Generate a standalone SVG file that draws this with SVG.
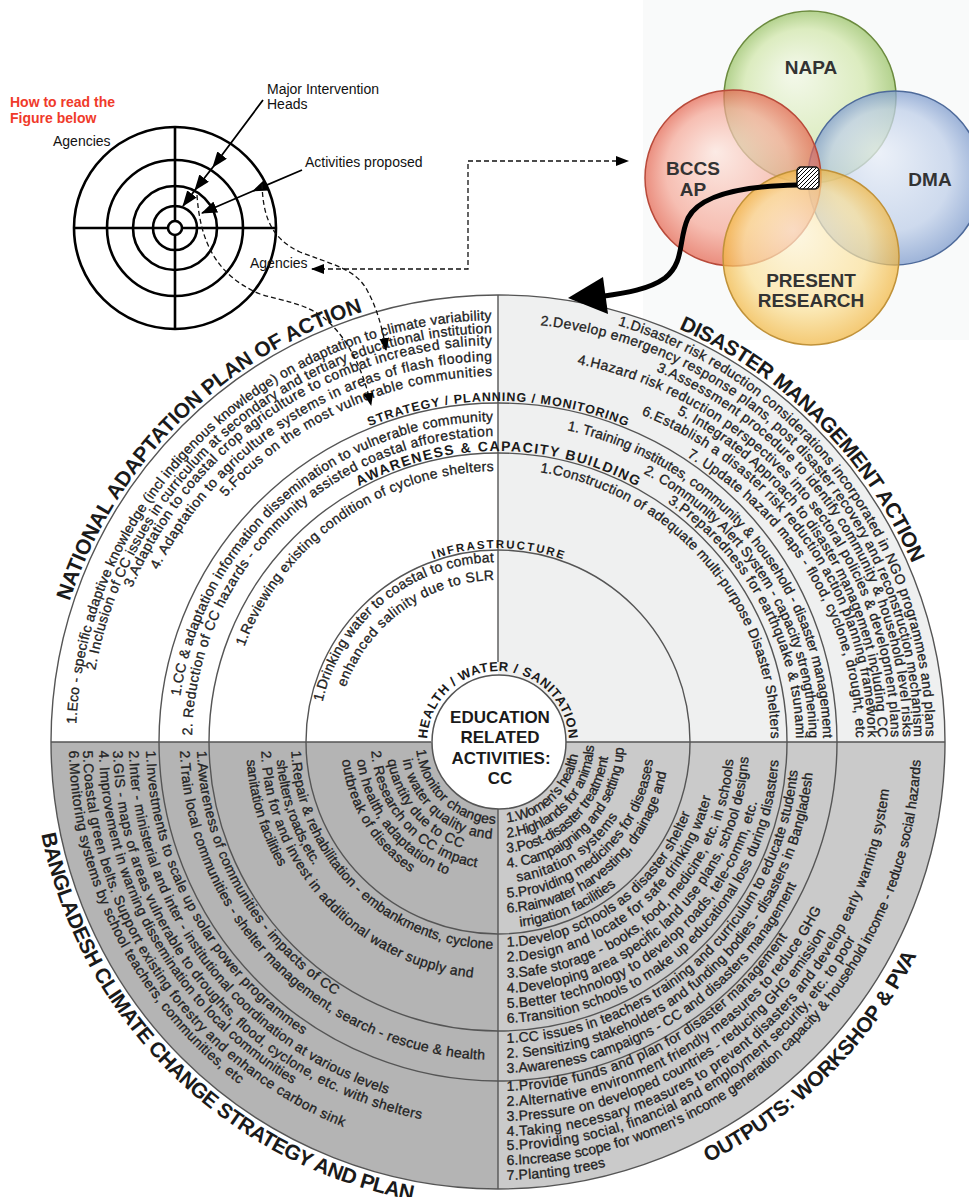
<svg xmlns="http://www.w3.org/2000/svg" width="969" height="1197" viewBox="0 0 969 1197">
<style>
.t{font-family:"Liberation Sans",Arial,sans-serif;font-size:14px;fill:#222;stroke:#222;stroke-width:0.3}
.h{font-family:"Liberation Sans",Arial,sans-serif;font-weight:bold;fill:#1a1a1a}
.lbl{font-family:"Liberation Sans",Arial,sans-serif;font-size:14px;fill:#111}
.vl{font-family:"Liberation Sans",Arial,sans-serif;font-size:19px;font-weight:bold;fill:#333;text-anchor:middle}
.ring{fill:none;stroke:#555;stroke-width:1.4}
.lg{fill:none;stroke:#000;stroke-width:2.6}
.dash{fill:none;stroke:#111;stroke-width:1.3;stroke-dasharray:5 3}
</style>
<defs>
<marker id="ah" markerUnits="userSpaceOnUse" markerWidth="16" markerHeight="12" refX="15" refY="6" orient="auto"><path d="M0,0 L16,6 L0,12 Z" fill="#000"/></marker>
<marker id="ad" markerUnits="userSpaceOnUse" markerWidth="13" markerHeight="10" refX="12" refY="5" orient="auto-start-reverse"><path d="M0,0 L13,5 L0,10 Z" fill="#000"/></marker>
<pattern id="hatch" patternUnits="userSpaceOnUse" width="4" height="4"><rect width="4" height="4" fill="#fff"/><path d="M-1,1 l2,-2 M0,4 l4,-4 M3,5 l2,-2" stroke="#000" stroke-width="1"/></pattern>
<radialGradient id="gN" fx="0.4" fy="0.35"><stop offset="0" stop-color="#f2f8e6"/><stop offset="0.7" stop-color="#d2e7ac"/><stop offset="1" stop-color="#9cc46a"/></radialGradient>
<radialGradient id="gB" fx="0.4" fy="0.35"><stop offset="0" stop-color="#fde4dc"/><stop offset="0.7" stop-color="#f5a594"/><stop offset="1" stop-color="#e4604a"/></radialGradient>
<radialGradient id="gD" fx="0.4" fy="0.35"><stop offset="0" stop-color="#e8eef8"/><stop offset="0.7" stop-color="#bfcfe9"/><stop offset="1" stop-color="#7f9ccd"/></radialGradient>
<radialGradient id="gP" fx="0.4" fy="0.35"><stop offset="0" stop-color="#fff6da"/><stop offset="0.7" stop-color="#fbe096"/><stop offset="1" stop-color="#f2b53c"/></radialGradient>
<path id="tl1" d="M76 742 A422 422 0 0 1 498 320"/>
<path id="tl2" d="M89 742 A409 409 0 0 1 498 333"/>
<path id="tl3" d="M101 742 A397 397 0 0 1 498 345"/>
<path id="tl4" d="M117 742 A381 381 0 0 1 498 361"/>
<path id="tl5" d="M132 742 A366 366 0 0 1 498 376"/>
<path id="tl6" d="M177 742 A321 321 0 0 1 498 421"/>
<path id="tl7" d="M192 742 A306 306 0 0 1 498 436"/>
<path id="tl8" d="M227 742 A271 271 0 0 1 498 471"/>
<path id="tl9" d="M318 742 A180 180 0 0 1 498 562"/>
<path id="tl10" d="M336 742 A162 162 0 0 1 498 580"/>
<path id="tr1" d="M498 308 A428 434 0 0 1 926 742"/>
<path id="tr2" d="M498 323 A416 419 0 0 1 914 742"/>
<path id="tr3" d="M498 339 A405 403 0 0 1 903 742"/>
<path id="tr4" d="M498 356 A393 386 0 0 1 891 742"/>
<path id="tr5" d="M498 370 A380 372 0 0 1 878 742"/>
<path id="tr6" d="M498 387 A370 355 0 0 1 868 742"/>
<path id="tr7" d="M498 406 A358 336 0 0 1 856 742"/>
<path id="tr8" d="M498 423 A325 319 0 0 1 823 742"/>
<path id="tr9" d="M498 438 A311 304 0 0 1 809 742"/>
<path id="tr10" d="M498 451 A298 291 0 0 1 796 742"/>
<path id="tr11" d="M498 469 A273 273 0 0 1 771 742"/>
<path id="bl1" d="M146 742 A352 352 0 0 0 498 1094"/>
<path id="bl2" d="M129 742 A369 369 0 0 0 498 1111"/>
<path id="bl3" d="M113 742 A385 385 0 0 0 498 1127"/>
<path id="bl4" d="M99 742 A399 399 0 0 0 498 1141"/>
<path id="bl5" d="M83 742 A415 415 0 0 0 498 1157"/>
<path id="bl6" d="M69 742 A429 429 0 0 0 498 1171"/>
<path id="bl7" d="M197 742 A301 301 0 0 0 498 1043"/>
<path id="bl8" d="M180 742 A318 318 0 0 0 498 1060"/>
<path id="bl9" d="M291 742 A207 207 0 0 0 498 949"/>
<path id="bl10" d="M276 742 A222 222 0 0 0 498 964"/>
<path id="bl11" d="M261 742 A237 237 0 0 0 498 979"/>
<path id="bl12" d="M246 742 A252 252 0 0 0 498 994"/>
<path id="bl13" d="M416 742 A82 82 0 0 0 498 824"/>
<path id="bl14" d="M401 742 A97 97 0 0 0 498 839"/>
<path id="bl15" d="M386 742 A112 112 0 0 0 498 854"/>
<path id="bl16" d="M371 742 A127 127 0 0 0 498 869"/>
<path id="bl17" d="M356 742 A142 142 0 0 0 498 884"/>
<path id="bl18" d="M341 742 A157 157 0 0 0 498 899"/>
<path id="br1" d="M498 823 A81 81 0 0 0 579 742"/>
<path id="br2" d="M498 838 A96 96 0 0 0 594 742"/>
<path id="br3" d="M498 853 A111 111 0 0 0 609 742"/>
<path id="br4" d="M498 868 A126 126 0 0 0 624 742"/>
<path id="br5" d="M498 883 A141 141 0 0 0 639 742"/>
<path id="br6" d="M498 898 A156 156 0 0 0 654 742"/>
<path id="br7" d="M498 913 A171 171 0 0 0 669 742"/>
<path id="br8" d="M498 928 A186 186 0 0 0 684 742"/>
<path id="br9" d="M498 947 A205 205 0 0 0 703 742"/>
<path id="br10" d="M498 962 A220 220 0 0 0 718 742"/>
<path id="br11" d="M498 978 A236 236 0 0 0 734 742"/>
<path id="br12" d="M498 993 A251 251 0 0 0 749 742"/>
<path id="br13" d="M498 1008 A266 266 0 0 0 764 742"/>
<path id="br14" d="M498 1023 A281 281 0 0 0 779 742"/>
<path id="br15" d="M498 1043 A301 301 0 0 0 799 742"/>
<path id="br16" d="M498 1058 A316 316 0 0 0 814 742"/>
<path id="br17" d="M498 1073 A331 331 0 0 0 829 742"/>
<path id="br18" d="M498 1091 A349 349 0 0 0 847 742"/>
<path id="br19" d="M498 1106 A364 364 0 0 0 862 742"/>
<path id="br20" d="M498 1121 A379 379 0 0 0 877 742"/>
<path id="br21" d="M498 1136 A394 394 0 0 0 892 742"/>
<path id="br22" d="M498 1150 A408 408 0 0 0 906 742"/>
<path id="br23" d="M498 1165 A423 423 0 0 0 921 742"/>
<path id="br24" d="M498 1180 A438 438 0 0 0 936 742"/>
<path id="napaT" d="M47 742 A451 451 0 0 1 498 291"/>
<path id="dmaT" d="M498 291 A451 451 0 0 1 949 742"/>
<path id="bccT" d="M32 742 A466 466 0 0 0 498 1208"/>
<path id="outT" d="M498 1212 A470 470 0 0 0 968 742"/>
<path id="stratT" d="M157 742 A341 341 0 0 1 839 742"/>
<path id="awT" d="M207 742 A291 291 0 0 1 789 742"/>
<path id="infT" d="M304 742 A194 194 0 0 1 692 742"/>
<path id="hwsT" d="M427 742 A71 71 0 0 1 569 742"/>
</defs>

<rect width="969" height="1197" fill="#fff"/>

<!-- Legend -->
<g id="legend">
<text x="10" y="107" class="h" style="font-size:14px;fill:#f03a2a">How to read the</text>
<text x="10" y="123" class="h" style="font-size:14px;fill:#f03a2a">Figure below</text>
<circle cx="175" cy="228" r="101" class="lg"/>
<circle cx="175" cy="228" r="68" class="lg"/>
<circle cx="175" cy="228" r="42" class="lg"/>
<circle cx="175" cy="228" r="22" class="lg"/>
<line x1="74" y1="228" x2="276" y2="228" class="lg"/>
<line x1="175" y1="127" x2="175" y2="329" class="lg"/>
<circle cx="175" cy="228" r="7" fill="#fff" stroke="#000" stroke-width="2.6"/>
<text x="53" y="146" class="lbl">Agencies</text>
<text x="267" y="94" class="lbl">Major Intervention</text>
<text x="267" y="109" class="lbl">Heads</text>
<text x="305" y="167" class="lbl">Activities proposed</text>
<text x="250" y="268" class="lbl">Agencies</text>
</g>

<!-- Venn -->
<g id="venn">
<rect x="643" y="0" width="326" height="340" fill="#f9fafa"/>
<g id="napa"><circle cx="810" cy="97" r="86" fill="url(#gN)" fill-opacity="0.75" stroke="#6b8a3e" stroke-width="1.5"/></g>
<g id="dma"><circle cx="895" cy="178" r="87" fill="url(#gD)" fill-opacity="0.75" stroke="#4e6a9a" stroke-width="1.5"/></g>
<g id="bccsap"><circle cx="733" cy="178" r="88" fill="url(#gB)" fill-opacity="0.7" stroke="#b84a3a" stroke-width="1.5"/></g>
<g id="present"><circle cx="811" cy="257" r="88" fill="url(#gP)" fill-opacity="0.7" stroke="#c0923a" stroke-width="1.5"/></g>
<text x="811" y="74" class="vl">NAPA</text>
<text x="693" y="175" class="vl">BCCS</text>
<text x="693" y="196" class="vl">AP</text>
<text x="930" y="186" class="vl">DMA</text>
<text x="811" y="287" class="vl">PRESENT</text>
<text x="811" y="307" class="vl">RESEARCH</text>
<rect x="797" y="167" width="22" height="22" rx="4" fill="url(#hatch)" stroke="#111" stroke-width="1.5"/>
</g>

<!-- Main wheel -->
<g id="wheel">
<path d="M498,742 L51,742 A447,447 0 0 1 498,295 Z" fill="#ffffff"/>
<path d="M498,742 L498,295 A447,447 0 0 1 945,742 Z" fill="#eff0f0"/>
<path d="M498,742 L945,742 A447,447 0 0 1 498,1189 Z" fill="#cacaca"/>
<path d="M498,742 L498,1189 A447,447 0 0 1 51,742 Z" fill="#b4b4b4"/>
<circle cx="498" cy="742" r="447" class="ring"/>
<circle cx="498" cy="742" r="339" class="ring"/>
<circle cx="498" cy="742" r="289" class="ring"/>
<circle cx="498" cy="742" r="192" class="ring"/>
<line x1="498" y1="295" x2="498" y2="662" class="ring"/>
<line x1="498" y1="809" x2="498" y2="1189" class="ring"/>
<line x1="51" y1="742" x2="431" y2="742" class="ring"/>
<line x1="565" y1="742" x2="945" y2="742" class="ring"/>
</g>

<g id="center">
<circle cx="499" cy="742" r="67" fill="#fff" stroke="#555" stroke-width="1.5"/>
<text class="h" style="font-size:17px;text-anchor:middle" x="500" y="723">EDUCATION</text>
<text class="h" style="font-size:17px;text-anchor:middle" x="500" y="743">RELATED</text>
<text class="h" style="font-size:17px;text-anchor:middle" x="501" y="764">ACTIVITIES:</text>
<text class="h" style="font-size:17px;text-anchor:middle" x="500" y="784">CC</text>
<text class="h" style="font-size:13px" text-anchor="middle"><textPath href="#hwsT" startOffset="50%" textLength="216">HEALTH / WATER / SANITATION</textPath></text>
</g>

<!-- Titles -->
<g id="titles">
<text class="h" style="font-size:21px"><textPath href="#napaT" startOffset="143" textLength="428">NATIONAL ADAPTATION PLAN OF ACTION</textPath></text>
<text class="h" style="font-size:21px"><textPath href="#dmaT" startOffset="186" textLength="339">DISASTER MANAGEMENT ACTION</textPath></text>
<text class="h" style="font-size:21px"><textPath href="#bccT" startOffset="93" textLength="553">BANGLADESH CLIMATE CHANGE STRATEGY AND PLAN</textPath></text>
<text class="h" style="font-size:21px"><textPath href="#outT" startOffset="218" textLength="299">OUTPUTS: WORKSHOP &amp; PVA</textPath></text>
<text class="h" style="font-size:12.5px" text-anchor="middle"><textPath href="#stratT" startOffset="50%" textLength="264">STRATEGY / PLANNING / MONITORING</textPath></text>
<text class="h" style="font-size:14px" text-anchor="middle"><textPath href="#awT" startOffset="50%" textLength="290">AWARENESS &amp; CAPACITY BUILDING</textPath></text>
<text class="h" style="font-size:11.5px" text-anchor="middle"><textPath href="#infT" startOffset="50%" textLength="132">INFRASTRUCTURE</textPath></text>
</g>

<!-- Top-left: NAPA -->
<g id="q-napa" class="t" text-anchor="end">
<text><textPath href="#tl1" startOffset="99%" textLength="638">1.Eco - specific adaptive knowledge (incl indigenous knowledge) on adaptation to climate variability</textPath></text>
<text><textPath href="#tl2" startOffset="99%" textLength="564">2. Inclusion of CC issues in curriculum at secondary and tertiary educational institution</textPath></text>
<text><textPath href="#tl3" startOffset="99%" textLength="459">3.Adaptation to coastal crop agriculture to combat increased salinity</textPath></text>
<text><textPath href="#tl4" startOffset="99%" textLength="414">4. Adaptation to agriculture systems in areas of flash flooding</textPath></text>
<text><textPath href="#tl5" startOffset="99%" textLength="301">5.Focus on the most vulnerable communities</textPath></text>
<text><textPath href="#tl6" startOffset="99%" textLength="453">1.CC &amp; adaptation information dissemination to vulnerable community</textPath></text>
<text><textPath href="#tl7" startOffset="99%" textLength="469">2. Reduction of CC hazards - community assisted coastal afforestation</textPath></text>
<text><textPath href="#tl8" startOffset="99%" textLength="324">1.Reviewing existing condition of cyclone shelters</textPath></text>
<text><textPath href="#tl9" startOffset="98.5%" textLength="238">1.Drinking water to coastal to combat</textPath></text>
<text><textPath href="#tl10" startOffset="98.5%" textLength="195">enhanced salinity due to SLR</textPath></text>
</g>

<!-- Top-right: DMA -->
<g id="q-dma" class="t" text-anchor="end">
<text><textPath href="#tr1" startOffset="99.2%" textLength="550">1.Disaster risk reduction considerations incorporated in NGO programmes and plans</textPath></text>
<text><textPath href="#tr2" startOffset="99.2%" textLength="608">2.Develop emergency response plans, post disaster recovery and reconstruction mechanism</textPath></text>
<text><textPath href="#tr3" startOffset="99.2%" textLength="467">3.Assessment procedure to identify community &amp; household level risks</textPath></text>
<text><textPath href="#tr4" startOffset="99.2%" textLength="527">4.Hazard risk reduction perspectives into sectoral policies &amp; development plans</textPath></text>
<text><textPath href="#tr5" startOffset="99.2%" textLength="400">5. Integrated Approach to disaster management including CC</textPath></text>
<text><textPath href="#tr6" startOffset="99.2%" textLength="418">6.Establish a disaster risk reduction action planning framework</textPath></text>
<text><textPath href="#tr7" startOffset="99.2%" textLength="343">7. Update hazard maps - flood, cyclone, drought, etc</textPath></text>
<text><textPath href="#tr8" startOffset="99.2%" textLength="432">1. Training institutes, community &amp; household - disaster management</textPath></text>
<text><textPath href="#tr9" startOffset="99.2%" textLength="328">2. Community Alert System - capacity strengthening</textPath></text>
<text><textPath href="#tr10" startOffset="99.2%" textLength="279">3.Preparedness for earthquake &amp; tsunami</textPath></text>
<text><textPath href="#tr11" startOffset="99.2%" textLength="383">1.Construction of adequate multi-purpose Disaster Shelters</textPath></text>
</g>

<!-- Bottom-left: BCCSAP -->
<g id="q-bccsap" class="t">
<text><textPath href="#bl1" startOffset="9" textLength="337">1.Investments to scale up solar power programmes</textPath></text>
<text><textPath href="#bl2" startOffset="9" textLength="458">2.Inter - ministerial and inter - institutional coordination at various levels</textPath></text>
<text><textPath href="#bl3" startOffset="9" textLength="518">3.GIS - maps of areas vulnerable to droughts, flood, cyclone, etc. with shelters</textPath></text>
<text><textPath href="#bl4" startOffset="9" textLength="402">4. Improvement in warning dissemination to local communities</textPath></text>
<text><textPath href="#bl5" startOffset="9" textLength="484">5.Coastal green belts. Support existing forestry and enhance carbon sink</textPath></text>
<text><textPath href="#bl6" startOffset="9" textLength="387">6.Monitoring systems by school teachers, communities, etc</textPath></text>
<text><textPath href="#bl7" startOffset="9" textLength="292">1.Awareness of communities - impacts of CC</textPath></text>
<text><textPath href="#bl8" startOffset="9" textLength="477">2.Train local communities - shelter management, search - rescue &amp; health</textPath></text>
<text><textPath href="#bl9" startOffset="9" textLength="311">1.Repair &amp; rehabilitation - embankments, cyclone</textPath></text>
<text><textPath href="#bl10" startOffset="18" textLength="113">shelters,roads,etc.</textPath></text>
<text><textPath href="#bl11" startOffset="9" textLength="338">2. Plan for and invest in additional water supply and</textPath></text>
<text><textPath href="#bl12" startOffset="18" textLength="113">sanitation facilities</textPath></text>
<text><textPath href="#bl13" startOffset="8" textLength="118">1.Monitor changes</textPath></text>
<text><textPath href="#bl14" startOffset="18" textLength="128">in water quality and</textPath></text>
<text><textPath href="#bl15" startOffset="18" textLength="121">quantity due to CC</textPath></text>
<text><textPath href="#bl16" startOffset="9" textLength="169">2. Research on CC impact</textPath></text>
<text><textPath href="#bl17" startOffset="18" textLength="153">on health, adaptation to</textPath></text>
<text><textPath href="#bl18" startOffset="18" textLength="136">outbreak of diseases</textPath></text>
</g>

<!-- Bottom-right: Outputs -->
<g id="q-outputs" class="t">
<text><textPath href="#br1" startOffset="9" textLength="105">1.Women's health</textPath></text>
<text><textPath href="#br2" startOffset="9" textLength="138">2.Highlands for animals</textPath></text>
<text><textPath href="#br3" startOffset="9" textLength="150">3.Post-disaster treatment</textPath></text>
<text><textPath href="#br4" startOffset="9" textLength="183">4. Campaigning and setting up</textPath></text>
<text><textPath href="#br5" startOffset="19" textLength="124">sanitation systems</textPath></text>
<text><textPath href="#br6" startOffset="9" textLength="218">5.Providing medicines for diseases</textPath></text>
<text><textPath href="#br7" startOffset="9" textLength="229">6.Rainwater harvesting, drainage and</textPath></text>
<text><textPath href="#br8" startOffset="22" textLength="106">irrigation facilities</textPath></text>
<text><textPath href="#br9" startOffset="9" textLength="240">1.Develop schools as disaster shelter</textPath></text>
<text><textPath href="#br10" startOffset="9" textLength="281">2.Design and locate for safe drinking water</textPath></text>
<text><textPath href="#br11" startOffset="9" textLength="344">3.Safe storage - books, food, medicine, etc. in schools</textPath></text>
<text><textPath href="#br12" startOffset="9" textLength="370">4.Developing area specific land use plans, school designs</textPath></text>
<text><textPath href="#br13" startOffset="9" textLength="348">5.Better technology to develop roads, tele-comm, etc.</textPath></text>
<text><textPath href="#br14" startOffset="9" textLength="414">6.Transition schools to make up educational loss during disasters</textPath></text>
<text><textPath href="#br15" startOffset="9" textLength="435">1.CC issues in teachers training and curriculum to educate students</textPath></text>
<text><textPath href="#br16" startOffset="9" textLength="456">2. Sensitizing stakeholders and funding bodies - disasters in Bangladesh</textPath></text>
<text><textPath href="#br17" startOffset="9" textLength="363">3.Awareness campaigns - CC and disasters management</textPath></text>
<text><textPath href="#br18" startOffset="9" textLength="332">1.Provide funds and plan for disaster management</textPath></text>
<text><textPath href="#br19" startOffset="9" textLength="389">2.Alternative environment friendly measures to reduce GHG</textPath></text>
<text><textPath href="#br20" startOffset="9" textLength="387">3.Pressure on developed countries - reducing GHG emission</textPath></text>
<text><textPath href="#br21" startOffset="9" textLength="562">4.Taking necessary measures to prevent disasters and develop early warning system</textPath></text>
<text><textPath href="#br22" startOffset="9" textLength="426">5.Providing social, financial and employment security, etc. to poor</textPath></text>
<text><textPath href="#br23" startOffset="9" textLength="637">6.Increase scope for women's income generation capacity &amp; household income - reduce social hazards</textPath></text>
<text><textPath href="#br24" startOffset="9" textLength="100">7.Planting trees</textPath></text>
</g>

<!-- Connectors -->
<g id="connectors">
<polyline points="263,100 213,167 195,190 183,206" fill="none" stroke="#000" stroke-width="1.8" marker-mid="url(#ah)" marker-end="url(#ah)"/>
<polyline points="302,170 253,191 202,213" fill="none" stroke="#000" stroke-width="1.8" marker-mid="url(#ah)" marker-end="url(#ah)"/>
<path d="M312,269 H468 V161 H628" class="dash" marker-start="url(#ad)" marker-end="url(#ad)"/>
<path d="M262,184 C263,215 270,238 300,252 C330,264 355,268 367,290 C377,308 383,330 386,350" class="dash" marker-end="url(#ad)"/>
<path d="M197,195 C200,240 215,275 260,294 C285,302 300,302 320,315 C345,333 362,365 371,405" class="dash" marker-end="url(#ad)"/>
<path d="M797,185 C740,186 700,195 688,218 C678,240 685,262 665,278 C648,290 625,293 598,297" fill="none" stroke="#000" stroke-width="5"/>
<polygon points="568,298 603,277 608,314" fill="#000"/>
</g>
</svg>
